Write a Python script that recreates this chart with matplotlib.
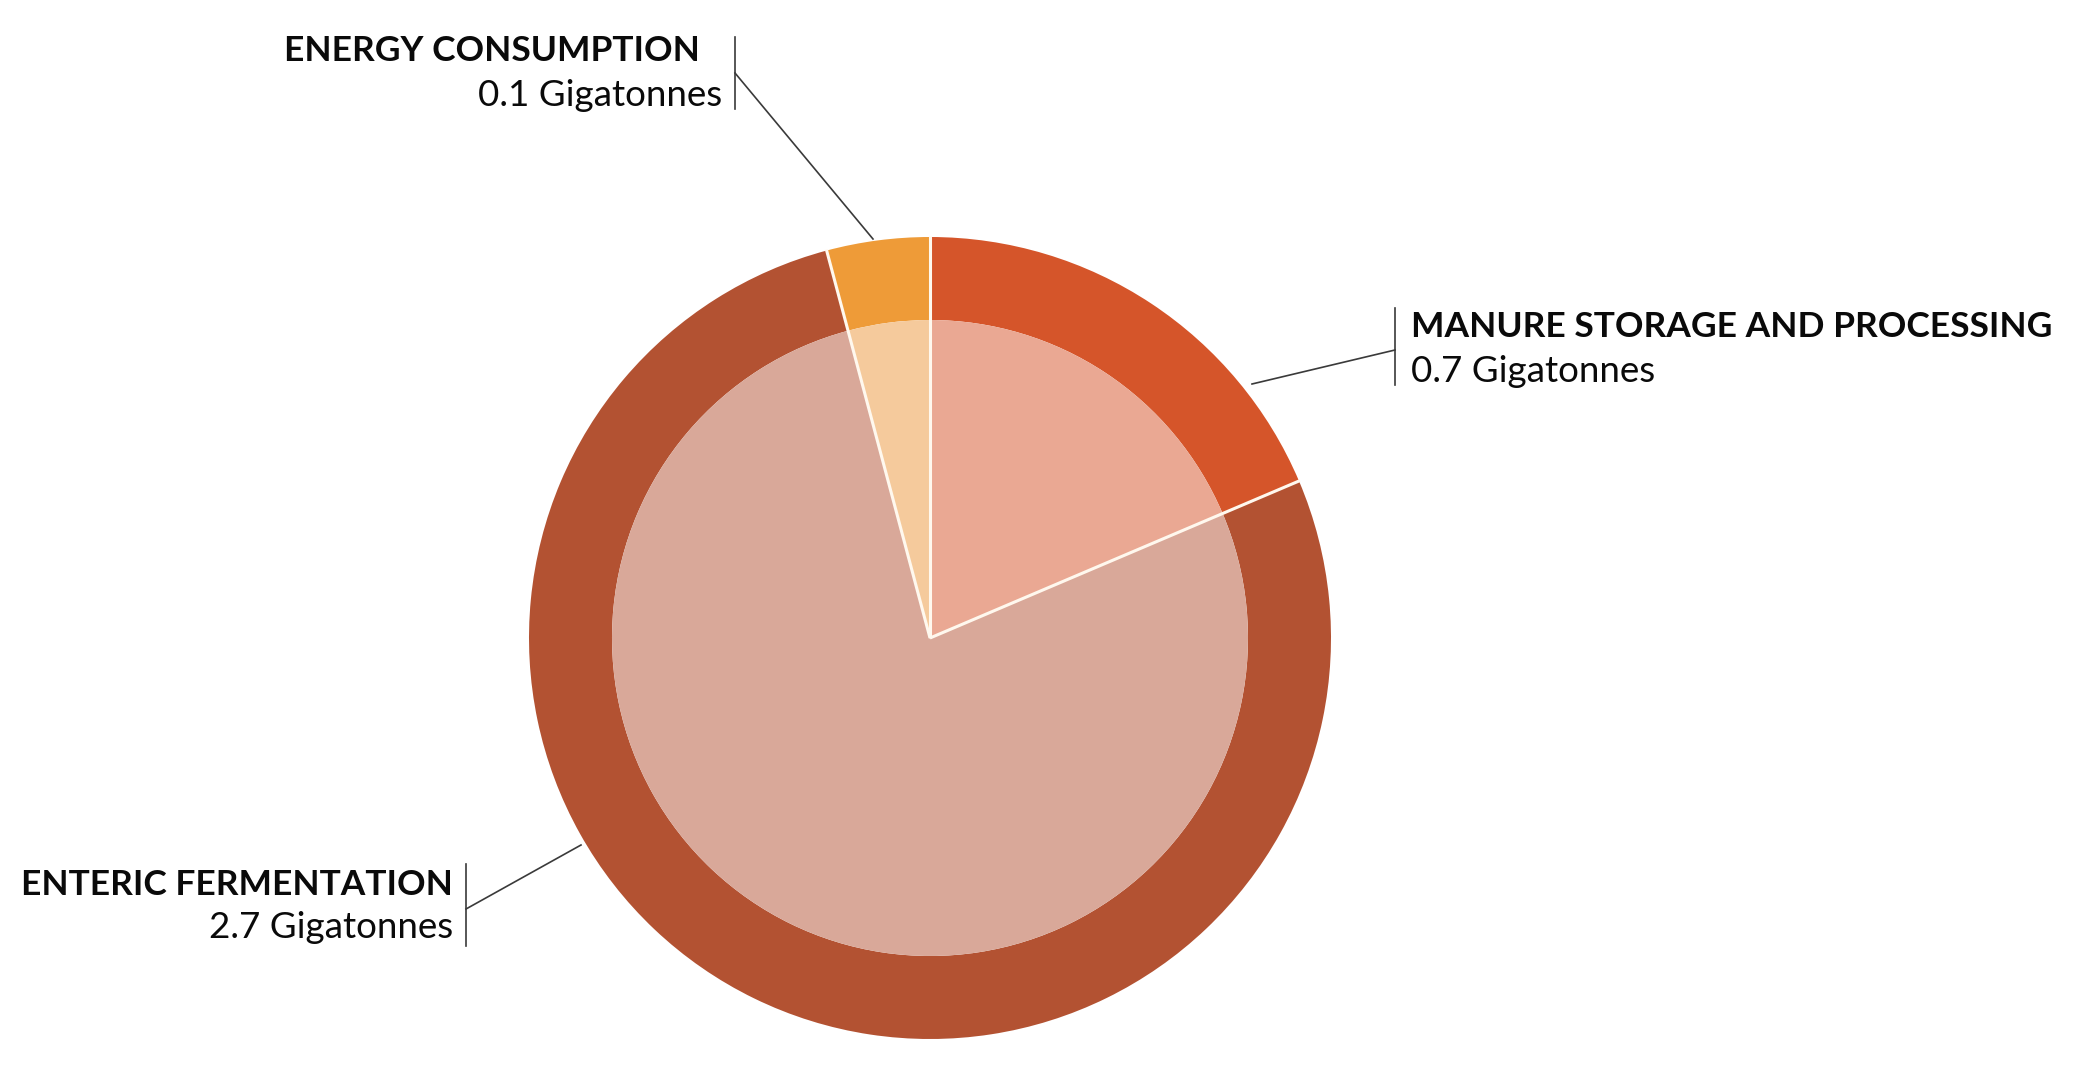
import matplotlib
matplotlib.use("Agg")
import matplotlib.pyplot as plt
import numpy as np

# Data (clockwise from 12 o'clock)
categories = ["MANURE STORAGE AND PROCESSING", "ENTERIC FERMENTATION", "ENERGY CONSUMPTION"]
values = [0.65, 2.7, 0.145]
value_labels = ["0.7 Gigatonnes", "2.7 Gigatonnes", "0.1 Gigatonnes"]
outer_colors = ["#D5552A", "#B35232", "#EE9B38"]
inner_colors = ["#EAA893", "#D9A899", "#F5CA9C"]

W, H = 2084, 1073
fig = plt.figure(figsize=(W / 100, H / 100), dpi=100)
ax = fig.add_axes([0, 0, 1, 1])

cx, cy = 930, H - 638
R, r = 401, 318

ax.pie(values, colors=outer_colors, radius=R, center=(cx, cy), startangle=90,
       counterclock=False, wedgeprops=dict(linewidth=0, width=R - r), frame=True)
ax.pie(values, colors=inner_colors, radius=r, center=(cx, cy), startangle=90,
       counterclock=False, wedgeprops=dict(linewidth=0), frame=True)
ax.set_xlim(0, W)
ax.set_ylim(0, H)
ax.set_aspect("equal")
ax.axis("off")

# white separators between wedges
bounds = np.concatenate([[0], np.cumsum(values)]) / np.sum(values)
for b in bounds[:-1]:
    ang = np.deg2rad(90 - 360 * b)
    ax.plot([cx, cx + (R + 1) * np.cos(ang)], [cy, cy + (R + 1) * np.sin(ang)],
            color="#FFF8EE", lw=2.2, solid_capstyle="butt", zorder=5)

font = "Lato"
lc = "#3A3A3A"
BS, RS = 25.5, 26.5
tc = "#0A0A0A"

def Y(p):
    return H - p

# Energy consumption (label left, right-aligned)
ax.plot([735, 735], [Y(37), Y(109)], color=lc, lw=1.2)
ax.plot([735, 873], [Y(73), Y(239)], color=lc, lw=1.2)
ax.text(700, Y(51), categories[2], ha="right", va="center", fontsize=BS,
        fontweight="bold", family=font, color=tc)
ax.text(722, Y(95), value_labels[2], ha="right", va="center", fontsize=RS,
        family=font, color=tc)

# Manure (label right, left-aligned)
ax.plot([1395, 1395], [Y(308), Y(385)], color=lc, lw=1.2)
ax.plot([1395, 1252], [Y(350), Y(384)], color=lc, lw=1.2)
ax.text(1411, Y(327), categories[0], ha="left", va="center", fontsize=BS,
        fontweight="bold", family=font, color=tc)
ax.text(1411, Y(372), value_labels[0], ha="left", va="center", fontsize=RS,
        family=font, color=tc)

# Enteric (label left, right-aligned)
ax.plot([466, 466], [Y(864), Y(946)], color=lc, lw=1.2)
ax.plot([466, 581], [Y(909), Y(845)], color=lc, lw=1.2)
ax.text(453, Y(885), categories[1], ha="right", va="center", fontsize=BS,
        fontweight="bold", family=font, color=tc)
ax.text(453, Y(927), value_labels[1], ha="right", va="center", fontsize=RS,
        family=font, color=tc)

fig.savefig("out.png", dpi=100, facecolor="white")
